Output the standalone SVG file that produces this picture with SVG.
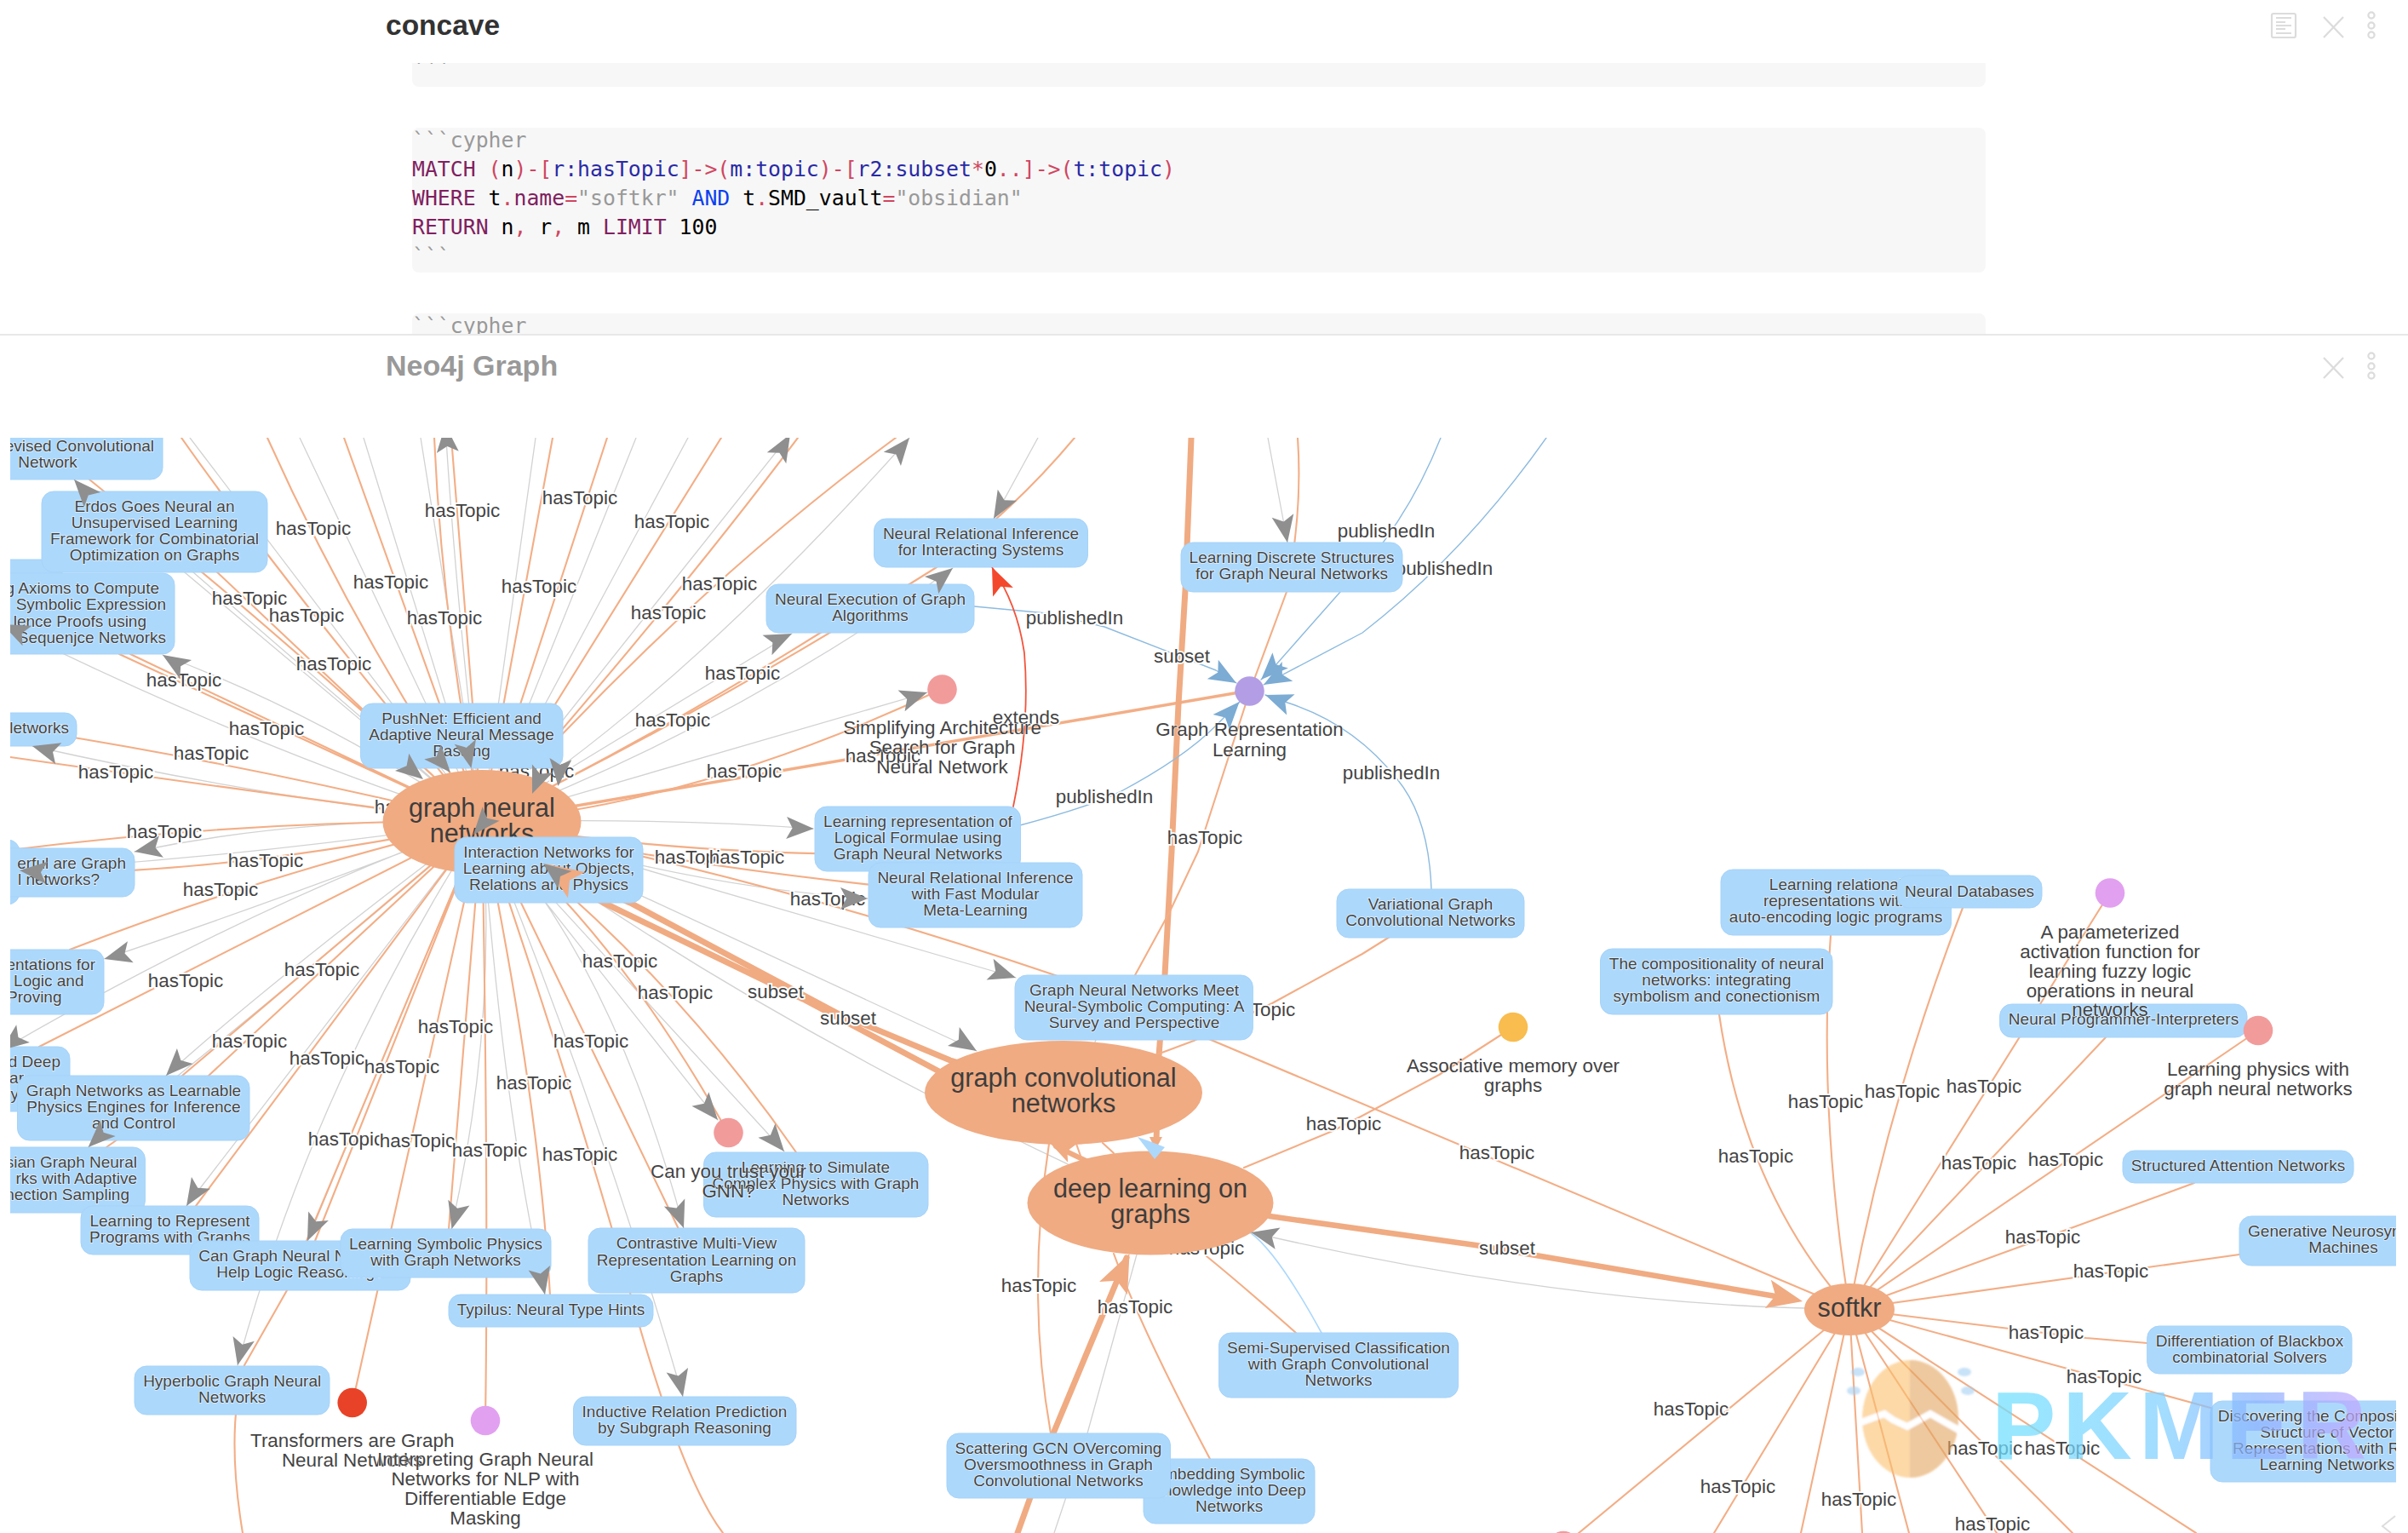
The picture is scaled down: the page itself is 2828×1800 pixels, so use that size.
<svg xmlns="http://www.w3.org/2000/svg" xmlns:xlink="http://www.w3.org/1999/xlink" width="2828" height="1800" viewBox="0 0 2828 1800">
<style>
text{font-family:"Liberation Sans",Arial,sans-serif}
.code{font-family:"DejaVu Sans Mono","Liberation Mono",monospace;font-size:24.8px;fill:#000}
.kw{fill:#7f2060}.rd{fill:#d0455f}.bl{fill:#2a2aa5}.st{fill:#999}.an{fill:#0a3ff0}
.blk{fill:#f7f7f7}
.ic{fill:none;stroke:#dcdcdc;stroke-width:2.2}
.o,.g,.b,.lb,.r,.t{fill:none;stroke-linecap:round;stroke-linejoin:round}
.o{stroke:#f3ae86;stroke-width:2.1}
.g{stroke:#d2d2d2;stroke-width:1.3}
.b{stroke:#8dbbe0;stroke-width:1.4}
.lb{stroke:#acd8fc;stroke-width:1.6}
.r{stroke:#f4533a;stroke-width:1.8}
.t{stroke:#f0ab82;stroke-width:7}
.e{font-size:22.4px;fill:#444;text-anchor:middle;stroke:#fff;stroke-width:3.6;paint-order:stroke}
.box{fill:#acd8fc;stroke:#a6d3f8;stroke-width:1}
.n,.ne,.c{stroke:#fff;stroke-opacity:.65;stroke-width:1.5;paint-order:stroke}
.n{font-size:19px;fill:#444;text-anchor:middle}
.ne{font-size:19px;fill:#444;text-anchor:end}
.c{font-size:22.4px;fill:#444;text-anchor:middle}
.big{fill:#f0ab82}
.bt{font-size:30.6px;fill:#3d3d3d;text-anchor:middle}
.ag{fill:#8f8f8f}.ab{fill:#7cabd3}.ao{fill:#f0ab82}.ar{fill:#f4482c}.al{fill:#acd8fc}
</style>
<defs>
<clipPath id="gc"><rect x="12" y="514" width="2802" height="1286"/></clipPath>
<clipPath id="cb1"><rect x="484" y="74" width="1848" height="28"/></clipPath>
<clipPath id="cb3"><rect x="0" y="368" width="2828" height="24"/></clipPath>
<path id="ah" d="M0 0L-32-13L-25 0L-32 13Z"/>
<linearGradient id="pk" gradientUnits="userSpaceOnUse" x1="2345" y1="0" x2="2780" y2="0"><stop offset="0" stop-color="#6fe0ff"/><stop offset=".45" stop-color="#80d0ff"/><stop offset=".7" stop-color="#8cb4ff"/><stop offset="1" stop-color="#c4a8ff"/></linearGradient>
<filter id="bl" x="-10%" y="-10%" width="120%" height="120%"><feGaussianBlur stdDeviation="1.2"/></filter>
</defs>
<rect width="2828" height="1800" fill="#fff"/>
<g id="notes">
<text x="453" y="41" font-size="33.5" font-weight="700" fill="#333">concave</text>
<g clip-path="url(#cb1)"><rect class="blk" x="484" y="60" width="1848" height="42" rx="8"/><text class="code st" x="484" y="90">```</text></g>
<rect class="blk" x="484" y="150" width="1848" height="170" rx="8"/>
<text class="code st" x="484" y="173">```cypher</text>
<text class="code" x="484" y="207"><tspan class="kw">MATCH</tspan> <tspan class="rd">(</tspan>n<tspan class="rd">)-[</tspan><tspan class="bl">r:hasTopic</tspan><tspan class="rd">]-&gt;(</tspan><tspan class="bl">m:topic</tspan><tspan class="rd">)-[</tspan><tspan class="bl">r2:subset</tspan><tspan class="rd">*</tspan>0<tspan class="rd">..]-&gt;(</tspan><tspan class="bl">t:topic</tspan><tspan class="rd">)</tspan></text>
<text class="code" x="484" y="241"><tspan class="kw">WHERE</tspan> t<tspan class="rd">.</tspan><tspan class="kw">name</tspan><tspan class="rd">=</tspan><tspan class="st">"softkr"</tspan> <tspan class="an">AND</tspan> t<tspan class="rd">.</tspan>SMD_vault<tspan class="rd">=</tspan><tspan class="st">"obsidian"</tspan></text>
<text class="code" x="484" y="275"><tspan class="kw">RETURN</tspan> n<tspan class="rd">,</tspan> r<tspan class="rd">,</tspan> m <tspan class="kw">LIMIT</tspan> 100</text>
<text class="code st" x="484" y="309">```</text>
<g clip-path="url(#cb3)"><rect class="blk" x="484" y="368" width="1848" height="60" rx="8"/><text class="code st" x="484" y="391">```cypher</text></g>
<rect x="0" y="392" width="2828" height="2" fill="#e8e8e8"/>
<text x="453" y="441" font-size="34" font-weight="700" fill="#999">Neo4j Graph</text>
<rect class="ic" x="2668" y="16" width="28" height="28" rx="2"/>
<path class="ic" d="M2673 21h18M2673 26h11M2673 30h18M2673 34h11M2673 39h18"/>
<path class="ic" d="M2729 20l23 24M2752 20l-23 24M2729 420l23 24M2752 420l-23 24"/>
<circle class="ic" cx="2785" cy="18" r="3.6"/><circle class="ic" cx="2785" cy="30" r="3.6"/><circle class="ic" cx="2785" cy="41" r="3.6"/>
<circle class="ic" cx="2785" cy="418" r="3.6"/><circle class="ic" cx="2785" cy="430" r="3.6"/><circle class="ic" cx="2785" cy="441" r="3.6"/>
</g>
<g clip-path="url(#gc)">
<g id="connectors">
<path class="g" d="M566 965L223 514M566 965L352 514M566 965L427 514M566 965L494 514M566 965Q535 700 523 499M566 965L629 514M566 965L747 514M566 965L808 514M566 965L928 510M566 965Q804 811 1068 514M566 965L930 744M566 965Q858 854 1119 667M566 965L1089 813M566 965Q780 960 955 973M566 965Q800 1040 1019 1055M566 965L1193 1148M566 965L1147 1234M566 965L921 1352M566 965L843 1315M566 965Q900 1208 1351 1412M566 965Q700 1290 802 1640M566 965Q720 1130 803 1442M566 965Q590 1300 640 1520M566 965Q585 1200 530 1443M566 965Q370 1270 279 1603M566 965Q450 1240 361 1457M566 965L219 1416M566 965Q320 1150 195 1263M566 965Q340 1160 104 1347M1287 1221L1280 1240M566 965Q300 1060 1.5 1233M566 965Q320 1060 122 1126M566 965Q300 1005 23 1022M566 965Q350 960 158 1000M566 965Q300 935 38 876M566 965Q300 880 3 733M566 965Q380 840 191 769M566 965L87 563M566 965L227 672M2172 1537Q1850 1535 1469 1447M1335 1473L1277 1683L1238 1800M1219 514L1167 609M1489 514L1512 637"/>
<path class="o" d="M566 965Q330 680 213 514M566 965Q416 741 314 514M566 965L404 514M566 965Q520 740 510 514M566 965L530 514M566 965L649 514M566 965L713 514M566 965L847 514M566 965Q790 710 937 514M566 965Q800 700 1052 514M566 965Q840 830 1100 666Q1190 600 1262 514M566 965Q780 860 1000 720M566 965Q824 943 1106 809M566 965Q760 1000 1000 1003M566 965Q800 1020 1145 1051M566 965Q900 1030 1239 1145L1332 1183L2172 1537M566 965Q350 760 105 563M566 965L200 620M566 965L140 768M566 965L153 768M566 965Q300 900 50 860M566 965Q300 930 12 889M566 965Q300 962 12 998M566 965Q300 1020 80 1025M566 965Q300 1030 82 1115M566 965L46 1229M566 965L214 1263M566 965L245 1263L125 1347M566 965L230 1416M566 965L360 1457M566 965L370 1457L287 1603Q265 1680 285 1800M566 965L414 1647M566 965L524 1480M566 965Q574 1400 570 1668M566 965Q635 1300 647 1539M566 965Q680 1300 740 1518T849 1800M566 965L810 1470M566 965Q720 1090 855 1330M566 965Q780 1130 935 1353"/>
<path class="o" style="stroke-width:3.4" d="M566 965L1467 811"/>
<path class="t" d="M640 1014L740 1060L984 1190L1116 1245L1200 1270M600 1000L709 1060L943 1173L1101 1257L1200 1310"/>
<path class="t" d="M1399 514L1392 693L1384 827L1376 1000L1368 1145L1361 1240L1358 1340"/>
<path class="t" style="stroke-width:6.5" d="M1491 1428L1733 1462L2085 1522"/>
<path class="t" d="M1195 1800L1237 1683L1323 1477"/>
<path class="t" style="stroke-width:6" d="M1240 1346L1290 1370"/>
<path class="o" d="M1234 1683Q1205 1520 1232 1343M1264 1343L1270 1360M1295 1342L1308 1354M1522 1565Q1460 1510 1417 1475M1421 1713Q1340 1560 1308 1472M1351 1241L1402 1222L1494 1178L1600 1120L1640 1095M1461 1371L1565 1328L1600 1310L1690 1262L1777 1206M1524 514Q1530 600 1511 695L1468 811L1407 1000L1374 1070L1333 1145"/>
<path class="o" d="M2019 1191Q2050 1400 2172 1537M2150 1098Q2135 1300 2172 1537M2305 1066Q2215 1300 2172 1537M2478 1048L2172 1537M2473 1218L2172 1537M2652 1210L2172 1537M2577 1389L2172 1537M2630 1473L2172 1537M2522 1577L2450 1571L2172 1537M2596 1653L2172 1537M2172 1537L2579 1800M2172 1537L2434 1800M2172 1537L2345 1800M2172 1537L2242 1800M2172 1537L2187 1800M2172 1537L2115 1800M2172 1537L2013 1800M2172 1537L1836 1815"/>
<path class="b" d="M1144 712L1229 720L1297 736L1428 787L1452 802M1692 514Q1650 620 1574 695L1499 780L1481 798M1816 514Q1720 650 1600 743L1484 804M1681 1044Q1678 960 1641 915Q1590 850 1512 825L1486 816M1198 969Q1280 947 1315 930Q1390 890 1427 853L1456 824"/>
<path class="lb" d="M1552 1565Q1500 1470 1468 1447Q1410 1400 1356 1361"/>
<path class="r" d="M1190 947Q1210 850 1203 767Q1195 710 1165 666"/>
<g id="edge-labels">
<text class="e" x="368" y="628">hasTopic</text><text class="e" x="543" y="607">hasTopic</text><text class="e" x="681" y="592">hasTopic</text><text class="e" x="789" y="620">hasTopic</text><text class="e" x="459" y="691">hasTopic</text><text class="e" x="633" y="696">hasTopic</text><text class="e" x="293" y="710">hasTopic</text><text class="e" x="360" y="730">hasTopic</text><text class="e" x="522" y="733">hasTopic</text><text class="e" x="785" y="727">hasTopic</text><text class="e" x="392" y="787">hasTopic</text><text class="e" x="216" y="806">hasTopic</text><text class="e" x="313" y="863">hasTopic</text><text class="e" x="248" y="892">hasTopic</text><text class="e" x="136" y="914">hasTopic</text><text class="e" x="790" y="853">hasTopic</text><text class="e" x="630" y="913">hasTopic</text><text class="e" x="484" y="955">hasTopic</text><text class="e" x="193" y="984">hasTopic</text>
<text class="e" x="872" y="798">hasTopic</text><text class="e" x="845" y="693">hasTopic</text><text class="e" x="874" y="913">hasTopic</text><text class="e" x="1037" y="895">hasTopic</text><text class="e" x="1205" y="850">extends</text><text class="e" x="1262" y="733">publishedIn</text><text class="e" x="1388" y="778">subset</text><text class="e" x="1297" y="943">publishedIn</text><text class="e" x="1415" y="991">hasTopic</text><text class="e" x="1628" y="631">publishedIn</text><text class="e" x="1696" y="675">publishedIn</text><text class="e" x="1634" y="915">publishedIn</text>
<text class="e" x="312" y="1018">hasTopic</text><text class="e" x="259" y="1052">hasTopic</text><text class="e" x="378" y="1146">hasTopic</text><text class="e" x="218" y="1159">hasTopic</text><text class="e" x="728" y="1136">hasTopic</text><text class="e" x="793" y="1173">hasTopic</text><text class="e" x="535" y="1213">hasTopic</text><text class="e" x="694" y="1230">hasTopic</text><text class="e" x="293" y="1230">hasTopic</text><text class="e" x="384" y="1250">hasTopic</text><text class="e" x="472" y="1260">hasTopic</text><text class="e" x="627" y="1279">hasTopic</text><text class="e" x="406" y="1345">hasTopic</text><text class="e" x="490" y="1347">hasTopic</text><text class="e" x="575" y="1358">hasTopic</text><text class="e" x="681" y="1363">hasTopic</text>
<text class="e" x="911" y="1172">subset</text><text class="e" x="996" y="1203">subset</text><text class="e" x="1578" y="1327">hasTopic</text><text class="e" x="1477" y="1193">hasTopic</text><text class="e" x="813" y="1014">hasTopic</text><text class="e" x="877" y="1014">hasTopic</text><text class="e" x="972" y="1063">hasTopic</text><text class="e" x="1220" y="1517">hasTopic</text><text class="e" x="1333" y="1542">hasTopic</text><text class="e" x="1417" y="1473">hasTopic</text>
<text class="e" x="2144" y="1301">hasTopic</text><text class="e" x="2234" y="1289">hasTopic</text><text class="e" x="2330" y="1283">hasTopic</text><text class="e" x="1758" y="1361">hasTopic</text><text class="e" x="2062" y="1365">hasTopic</text><text class="e" x="2324" y="1373">hasTopic</text><text class="e" x="2426" y="1369">hasTopic</text>
<text class="e" x="1770" y="1473">subset</text><text class="e" x="2399" y="1460">hasTopic</text><text class="e" x="2479" y="1500">hasTopic</text><text class="e" x="2403" y="1572">hasTopic</text><text class="e" x="2471" y="1624">hasTopic</text><text class="e" x="1986" y="1662">hasTopic</text><text class="e" x="2331" y="1708">hasTopic</text><text class="e" x="2422" y="1708">hasTopic</text><text class="e" x="2041" y="1753">hasTopic</text><text class="e" x="2183" y="1768">hasTopic</text><text class="e" x="2340" y="1797">hasTopic</text>
</g>
</g>
<g id="nodes">
<g id="n-unsup-conv"><rect class="box" x="-80" y="480" width="271" height="83" rx="14"/><text class="ne" x="181" y="530">evised Convolutional</text><text class="n" x="56" y="549">Network</text></g>
<g id="n-hidden-a"><rect class="box" x="-60" y="657" width="133" height="60" rx="14"/></g>
<g id="n-erdos"><rect class="box" x="49" y="577" width="265" height="95" rx="14"/><text class="n" x="181.500" y="601">Erdos Goes Neural an</text><text class="n" x="181.500" y="620">Unsupervised Learning</text><text class="n" x="181.500" y="639">Framework for Combinatorial</text><text class="n" x="181.500" y="658">Optimization on Graphs</text></g>
<g id="n-axioms"><rect class="box" x="-60" y="673" width="265" height="95" rx="14"/><text class="ne" x="187" y="697">g Axioms to Compute</text><text class="ne" x="195" y="716">Symbolic Expression</text><text class="ne" x="172" y="736">lence Proofs using</text><text class="ne" x="195" y="755">Sequenjce Networks</text></g>
<g id="n-networks"><rect class="box" x="-60" y="837" width="150" height="39" rx="14"/><text class="ne" x="81" y="861">letworks</text></g>
<g id="n-pushnet"><rect class="box" x="423.500" y="826" width="237.500" height="76" rx="14"/><text class="n" x="542" y="850">PushNet: Efficient and</text><text class="n" x="542" y="869">Adaptive Neural Message</text><text class="n" x="542" y="888">Passing</text></g>
<g id="n-gnn"><ellipse class="big" cx="566" cy="965" rx="116.500" ry="61"/><text class="bt" x="566" y="959">graph neural</text><text class="bt" x="566" y="989">networks</text></g>
<g id="n-hidden-b"><rect class="box" x="-60" y="986" width="83" height="76" rx="14"/></g>
<g id="n-powerful"><rect class="box" x="-60" y="996" width="218" height="57" rx="14"/><text class="ne" x="148" y="1020">erful are Graph</text><text class="ne" x="117" y="1039">l networks?</text></g>
<g id="n-interaction"><rect class="box" x="534" y="983" width="221" height="77" rx="14"/><text class="n" x="644.500" y="1007">Interaction Networks for</text><text class="n" x="644.500" y="1026">Learning about Objects,</text><text class="n" x="644.500" y="1045">Relations and Physics</text></g>
<g id="n-rep-logic"><rect class="box" x="-60" y="1115" width="182" height="76" rx="14"/><text class="ne" x="112" y="1139">entations for</text><text class="ne" x="98.500" y="1158">Logic and</text><text class="ne" x="72.500" y="1177">Proving</text></g>
<g id="n-deep"><rect class="box" x="-60" y="1229" width="142" height="76" rx="14"/><text class="ne" x="71" y="1253">d Deep</text><text class="ne" x="28" y="1272">ar</text><text class="ne" x="22" y="1291">ly</text></g>
<g id="n-physics-engines"><rect class="box" x="20.500" y="1263" width="272.500" height="76" rx="14"/><text class="n" x="157" y="1287">Graph Networks as Learnable</text><text class="n" x="157" y="1306">Physics Engines for Inference</text><text class="n" x="157" y="1325">and Control</text></g>
<g id="n-bayesian"><rect class="box" x="-60" y="1347" width="230.400" height="77" rx="14"/><text class="ne" x="161" y="1371">sian Graph Neural</text><text class="ne" x="161" y="1390">rks with Adaptive</text><text class="ne" x="152" y="1409">nection Sampling</text></g>
<g id="n-represent"><rect class="box" x="95" y="1416" width="209" height="57" rx="14"/><text class="n" x="199.500" y="1440">Learning to Represent</text><text class="n" x="199.500" y="1459">Programs with Graphs</text></g>
<g id="n-can-graph"><rect class="box" x="223" y="1457" width="259" height="58" rx="14"/><text class="n" x="352.500" y="1481">Can Graph Neural Networks</text><text class="n" x="352.500" y="1500">Help Logic Reasoning?</text></g>
<g id="n-symbolic-physics"><rect class="box" x="400" y="1443" width="247" height="57" rx="14"/><text class="n" x="523.500" y="1467">Learning Symbolic Physics</text><text class="n" x="523.500" y="1486">with Graph Networks</text></g>
<g id="n-contrastive"><rect class="box" x="691" y="1442" width="254" height="76" rx="14"/><text class="n" x="818" y="1466">Contrastive Multi-View</text><text class="n" x="818" y="1486">Representation Learning on</text><text class="n" x="818" y="1505">Graphs</text></g>
<g id="n-typilus"><rect class="box" x="527" y="1520" width="240" height="38" rx="14"/><text class="n" x="647" y="1544">Typilus: Neural Type Hints</text></g>
<g id="n-hyperbolic"><rect class="box" x="158" y="1604" width="229" height="57" rx="14"/><text class="n" x="272.700" y="1628">Hyperbolic Graph Neural</text><text class="n" x="272.700" y="1647">Networks</text></g>
<g id="n-inductive"><rect class="box" x="673.500" y="1640" width="261.500" height="57" rx="14"/><text class="n" x="804" y="1664">Inductive Relation Prediction</text><text class="n" x="804" y="1683">by Subgraph Reasoning</text></g>
<g id="n-nri"><rect class="box" x="1026.500" y="609" width="251" height="57" rx="14"/><text class="n" x="1152" y="633">Neural Relational Inference</text><text class="n" x="1152" y="652">for Interacting Systems</text></g>
<g id="n-nega"><rect class="box" x="900" y="686" width="244" height="57" rx="14"/><text class="n" x="1022" y="710">Neural Execution of Graph</text><text class="n" x="1022" y="729">Algorithms</text></g>
<g id="n-discrete"><rect class="box" x="1387" y="637" width="260" height="58" rx="14"/><text class="n" x="1517" y="661">Learning Discrete Structures</text><text class="n" x="1517" y="680">for Graph Neural Networks</text></g>
<g id="n-rep-logical"><rect class="box" x="957" y="947" width="241.500" height="76" rx="14"/><text class="n" x="1078" y="971">Learning representation of</text><text class="n" x="1078" y="990">Logical Formulae using</text><text class="n" x="1078" y="1009">Graph Neural Networks</text></g>
<g id="n-nri-fast"><rect class="box" x="1020" y="1013" width="251" height="76" rx="14"/><text class="n" x="1145.500" y="1037">Neural Relational Inference</text><text class="n" x="1145.500" y="1056">with Fast Modular</text><text class="n" x="1145.500" y="1075">Meta-Learning</text></g>
<g id="n-vgcn"><rect class="box" x="1570" y="1044" width="220" height="57" rx="14"/><text class="n" x="1680" y="1068">Variational Graph</text><text class="n" x="1680" y="1087">Convolutional Networks</text></g>
<g id="n-meet"><rect class="box" x="1192" y="1145" width="279.400" height="76" rx="14"/><text class="n" x="1332" y="1169">Graph Neural Networks Meet</text><text class="n" x="1332" y="1188">Neural-Symbolic Computing: A</text><text class="n" x="1332" y="1207">Survey and Perspective</text></g>
<g id="n-gcn"><ellipse class="big" cx="1249" cy="1283" rx="163" ry="61"/><text class="bt" x="1249" y="1276">graph convolutional</text><text class="bt" x="1249" y="1306">networks</text></g>
<g id="n-dlg"><ellipse class="big" cx="1351" cy="1412.500" rx="144.500" ry="61"/><text class="bt" x="1351" y="1406">deep learning on</text><text class="bt" x="1351" y="1436">graphs</text></g>
<g id="n-softkr"><ellipse class="big" cx="2172" cy="1537.500" rx="53" ry="30.500"/><text class="bt" x="2172" y="1546">softkr</text></g>
<g id="n-simulate"><rect class="box" x="826.500" y="1353" width="263.500" height="76" rx="14"/><text class="n" x="958" y="1377">Learning to Simulate</text><text class="n" x="958" y="1396">Complex Physics with Graph</text><text class="n" x="958" y="1415">Networks</text></g>
<g id="n-trust"><circle cx="855.500" cy="1330" r="17.300" fill="#f29b9b"/><text class="c" x="855.500" y="1383">Can you trust your</text><text class="c" x="855.500" y="1406">GNN?</text></g>
<g id="n-semi"><rect class="box" x="1431.600" y="1565" width="281" height="76" rx="14"/><text class="n" x="1572" y="1589">Semi-Supervised Classification</text><text class="n" x="1572" y="1608">with Graph Convolutional</text><text class="n" x="1572" y="1627">Networks</text></g>
<g id="n-embedding"><rect class="box" x="1343" y="1713" width="201" height="76" rx="14"/><text class="n" x="1443.600" y="1737">Embedding Symbolic</text><text class="n" x="1443.600" y="1756">Knowledge into Deep</text><text class="n" x="1443.600" y="1775">Networks</text></g>
<g id="n-scattering"><rect class="box" x="1112" y="1683" width="262.500" height="76" rx="14"/><text class="n" x="1243" y="1707">Scattering GCN OVercoming</text><text class="n" x="1243" y="1726">Oversmoothness in Graph</text><text class="n" x="1243" y="1745">Convolutional Networks</text></g>
<g id="n-relational"><rect class="box" x="2021" y="1021" width="270.500" height="77" rx="14"/><text class="n" x="2156" y="1045">Learning relational</text><text class="n" x="2156" y="1064">representations with</text><text class="n" x="2156" y="1083">auto-encoding logic programs</text></g>
<g id="n-databases"><rect class="box" x="2228" y="1028" width="170" height="38" rx="14"/><text class="n" x="2313" y="1053">Neural Databases</text></g>
<g id="n-compositionality"><rect class="box" x="1879.500" y="1114" width="272.500" height="77" rx="14"/><text class="n" x="2016" y="1138">The compositionality of neural</text><text class="n" x="2016" y="1157">networks: integrating</text><text class="n" x="2016" y="1176">symbolism and conectionism</text></g>
<g id="n-npi"><rect class="box" x="2348.600" y="1179" width="290.400" height="39" rx="14"/><text class="n" x="2494" y="1203">Neural Programmer-Interpreters</text></g>
<g id="n-param"><circle cx="2478" cy="1048.500" r="17.300" fill="#e2a0f0"/><text class="c" x="2478" y="1102">A parameterized</text><text class="c" x="2478" y="1125">activation function for</text><text class="c" x="2478" y="1148">learning fuzzy logic</text><text class="c" x="2478" y="1171">operations in neural</text><text class="c" x="2478" y="1193">networks</text></g>
<g id="n-physics"><circle cx="2652" cy="1210" r="17.300" fill="#f29b9b"/><text class="c" x="2652" y="1263">Learning physics with</text><text class="c" x="2652" y="1286">graph neural networks</text></g>
<g id="n-associative"><circle cx="1777" cy="1206" r="17.300" fill="#f9bc4e"/><text class="c" x="1777" y="1259">Associative memory over</text><text class="c" x="1777" y="1282">graphs</text></g>
<g id="n-structured"><rect class="box" x="2493" y="1351" width="271" height="38" rx="14"/><text class="n" x="2628.500" y="1375">Structured Attention Networks</text></g>
<g id="n-generative"><rect class="box" x="2630" y="1428" width="260" height="58" rx="14"/><text class="n" x="2752" y="1452">Generative Neurosymbolic</text><text class="n" x="2752" y="1471">Machines</text></g>
<g id="n-blackbox"><rect class="box" x="2521.700" y="1557" width="240.300" height="56" rx="14"/><text class="n" x="2642" y="1581">Differentiation of Blackbox</text><text class="n" x="2642" y="1600">combinatorial Solvers</text></g>
<g id="n-discovering"><rect class="box" x="2596" y="1645" width="274" height="95" rx="14"/><text class="n" x="2733" y="1669">Discovering the Compositional</text><text class="n" x="2733" y="1688">Structure of Vector</text><text class="n" x="2733" y="1707">Representations with Rule</text><text class="n" x="2733" y="1726">Learning Networks</text></g>
<g id="n-simplifying"><circle cx="1106.500" cy="809.500" r="17.300" fill="#f29b9b"/><text class="c" x="1106.500" y="862">Simplifying Architecture</text><text class="c" x="1106.500" y="885">Search for Graph</text><text class="c" x="1106.500" y="908">Neural Network</text></g>
<g id="n-grl"><circle cx="1467.500" cy="811.500" r="17.300" fill="#b39de4"/><text class="c" x="1467.500" y="864">Graph Representation</text><text class="c" x="1467.500" y="888">Learning</text></g>
<g id="n-transformers"><circle cx="413.700" cy="1647" r="17.300" fill="#e84328"/><text class="c" x="413.700" y="1699">Transformers are Graph</text><text class="c" x="413.700" y="1722">Neural Networks</text></g>
<g id="n-interpreting"><circle cx="570" cy="1668" r="17.300" fill="#e2a0f0"/><text class="c" x="570" y="1721">Interpreting Graph Neural</text><text class="c" x="570" y="1744">Networks for NLP with</text><text class="c" x="570" y="1767">Differentiable Edge</text><text class="c" x="570" y="1790">Masking</text></g>
<g id="n-pink-bottom"><circle cx="1836" cy="1815" r="17.300" fill="#f29b9b"/></g>
</g>
<g id="arrowheads">
<g class="ag">
<use href="#ah" transform="translate(87 563) rotate(-132)"/>
<use href="#ah" transform="translate(523 499) rotate(-95)"/>
<use href="#ah" transform="translate(191 769) rotate(-148)"/>
<use href="#ah" transform="translate(3 733) rotate(-155)"/>
<use href="#ah" transform="translate(38 876) rotate(-164)"/>
<use href="#ah" transform="translate(497 915) rotate(39)"/>
<use href="#ah" transform="translate(529 907) rotate(49)"/>
<use href="#ah" transform="translate(553.500 902) rotate(77)"/>
<use href="#ah" transform="translate(655.600 923) rotate(95)"/>
<use href="#ah" transform="translate(625 932) rotate(112)"/>
<use href="#ah" transform="translate(556 980) rotate(130)"/>
<use href="#ah" transform="translate(158 1000) rotate(169)"/>
<use href="#ah" transform="translate(928 510) rotate(-60)"/>
<use href="#ah" transform="translate(1068 514) rotate(-51)"/>
<use href="#ah" transform="translate(1167 609) rotate(120)"/>
<use href="#ah" transform="translate(1119 667) rotate(-39)"/>
<use href="#ah" transform="translate(930 744) rotate(-25)"/>
<use href="#ah" transform="translate(1089 813) rotate(-18)"/>
<use href="#ah" transform="translate(1512 637) rotate(80)"/>
<use href="#ah" transform="translate(955.600 973) rotate(2)"/>
<use href="#ah" transform="translate(23 1022) rotate(-175)"/>
<use href="#ah" transform="translate(122.400 1126) rotate(165)"/>
<use href="#ah" transform="translate(1.500 1233) rotate(143)"/>
<use href="#ah" transform="translate(195 1263) rotate(134)"/>
<use href="#ah" transform="translate(103.600 1347) rotate(136)"/>
<use href="#ah" transform="translate(219 1416) rotate(122)"/>
<use href="#ah" transform="translate(361 1457) rotate(114)"/>
<use href="#ah" transform="translate(530.600 1443) rotate(105)"/>
<use href="#ah" transform="translate(640 1520) rotate(78)"/>
<use href="#ah" transform="translate(279 1603) rotate(103)"/>
<use href="#ah" transform="translate(1469.400 1447) rotate(-167)"/>
<use href="#ah" transform="translate(843 1315) rotate(50)"/>
<use href="#ah" transform="translate(921 1352) rotate(50)"/>
<use href="#ah" transform="translate(1019 1055) rotate(0)"/>
<use href="#ah" transform="translate(1193 1148) rotate(18)"/>
<use href="#ah" transform="translate(1147 1234) rotate(32)"/>
<use href="#ah" transform="translate(803 1442) rotate(70)"/>
<use href="#ah" transform="translate(802 1640) rotate(78)"/>
</g>
<g class="ao">
<use href="#ah" transform="translate(640 1014) rotate(-146) scale(1.4)"/>
<use href="#ah" transform="translate(2117 1528) rotate(12) scale(1.3)"/>
<use href="#ah" transform="translate(1326.500 1472) rotate(-65) scale(1.4)"/>
<use href="#ah" transform="translate(1233 1342) rotate(-155) scale(.9)"/>
<path d="M1350 1335L1365 1335L1357 1350Z"/>
</g>
<use class="ag" href="#ah" transform="translate(638 1014) rotate(-143)"/>
<g class="ab">
<use href="#ah" transform="translate(1452 802) rotate(30)"/>
<use href="#ah" transform="translate(1481 798) rotate(135)"/>
<use href="#ah" transform="translate(1484 804) rotate(151)"/>
<use href="#ah" transform="translate(1486 816) rotate(-159)"/>
<use href="#ah" transform="translate(1455.600 824) rotate(-48)"/>
</g>
<use class="ar" href="#ah" transform="translate(1165 666) rotate(-114)"/>
<path class="al" d="M1356 1361L1336 1335L1350 1340L1368 1347Z"/>
<path d="M2813 1780L2798 1792L2808 1800" fill="none" stroke="#ddd" stroke-width="2"/>
</g>
</g>
<g id="watermark">
<g filter="url(#bl)" opacity=".6">
<ellipse cx="2243.500" cy="1666" rx="56.500" ry="69" fill="#fbc06e"/>
<path d="M2243 1597A57 69 0 0 1 2243 1735Z" fill="#e3a561"/>
<path d="M2186 1670L2213 1660L2223 1667L2240 1675L2267 1660L2302 1680" fill="none" stroke="#fff" stroke-width="8"/>
<ellipse cx="2182" cy="1611" rx="8" ry="5" fill="#a4cff3"/><ellipse cx="2177" cy="1633" rx="8" ry="5" fill="#a4cff3"/><ellipse cx="2307" cy="1611" rx="8" ry="5" fill="#a4cff3"/><ellipse cx="2311" cy="1633" rx="8" ry="5" fill="#a4cff3"/>
</g>
<text x="2339" y="1713" font-size="113" font-weight="700" letter-spacing="8" fill="url(#pk)" opacity=".72">PKMER</text>
</g>
</svg>
